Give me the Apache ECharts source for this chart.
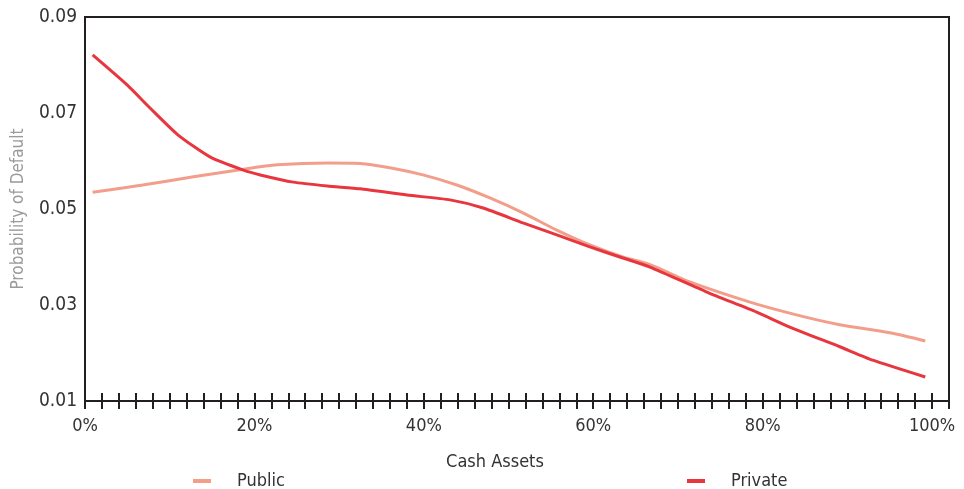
<!DOCTYPE html>
<html>
<head>
<meta charset="utf-8">
<script src="https://cdn.jsdelivr.net/npm/echarts@6/dist/echarts.min.js"></script>
<style>
html,body{margin:0;padding:0;background:#fff;}
#chart{width:964px;height:489px;}
</style>
</head>
<body>
<div id="chart"></div>
<script>
// Cash assets (%) and probability of default
var publicX = [0.9, 6.8, 12.8, 18.7, 22.7, 28.6, 32.5, 36.0, 39.9, 43.9, 47.8, 51.7, 55.7, 59.6, 63.5, 66.7, 71.4, 78.5, 84.1, 89.1, 95.0, 99.2];
var publicY = [0.0535, 0.0550, 0.0567, 0.0583, 0.0592, 0.0596, 0.0595, 0.0586, 0.0571, 0.0550, 0.0523, 0.0492, 0.0456, 0.0425, 0.0400, 0.0384, 0.0348, 0.0306, 0.0279, 0.0259, 0.0242, 0.0225];
var privateX = [0.9, 5.0, 7.7, 11.0, 14.8, 18.7, 20.7, 24.6, 28.6, 32.5, 38.0, 43.1, 47.0, 51.7, 55.7, 59.6, 63.5, 66.7, 73.4, 79.3, 83.2, 89.1, 93.0, 99.2];
var privateY = [0.0821, 0.0758, 0.0710, 0.0654, 0.0608, 0.0581, 0.0571, 0.0556, 0.0548, 0.0542, 0.0529, 0.0519, 0.0502, 0.0471, 0.0446, 0.0421, 0.0398, 0.0379, 0.0327, 0.0285, 0.0254, 0.0213, 0.0185, 0.0150];
var yTicks = [0.01, 0.03, 0.05, 0.07, 0.09];
var seriesNames = ['Public', 'Private'];
var xAxisTitle = 'Cash Assets';
var yAxisTitle = 'Probability of Default';

function pairs(xs, ys) { return xs.map(function (x, i) { return [x, ys[i]]; }); }

var FONT = "'Liberation Sans Narrow', 'DejaVu Sans Condensed', 'Roboto', sans-serif";
var INK = '#231f20';

var chart = echarts.init(document.getElementById('chart'), null, {renderer: 'canvas'});
chart.setOption({
  animation: false,
  backgroundColor: '#fff',
  textStyle: {fontFamily: FONT},
  grid: {left: 85, right: 15, top: 17, bottom: 88, show: true, borderColor: INK, borderWidth: 2, containLabel: false},
  legend: [
    {data: [seriesNames[0]], left: 188, top: 467, icon: 'rect', itemWidth: 18, itemHeight: 4,
     textStyle: {fontFamily: FONT, fontSize: 18, color: '#333', padding: [0, 0, 0, 21]}},
    {data: [seriesNames[1]], left: 682, top: 467, icon: 'rect', itemWidth: 18, itemHeight: 4,
     textStyle: {fontFamily: FONT, fontSize: 18, color: '#333', padding: [0, 0, 0, 21]}}
  ],
  xAxis: [
    {type: 'value', position: 'bottom', min: 0, max: 102, interval: 2,
     name: xAxisTitle, nameLocation: 'middle', nameGap: 52,
     nameTextStyle: {fontFamily: FONT, fontSize: 18, color: '#333', padding: [0, 44, 0, 0]},
     axisLine: {show: true, lineStyle: {color: INK, width: 2}},
     axisTick: {show: true, inside: false, length: 8, lineStyle: {color: INK, width: 2}},
     axisLabel: {show: true, margin: 16, fontFamily: FONT, fontSize: 18, color: '#333',
       formatter: function (v) { return (Math.round(v) % 20 === 0 && v <= 100) ? Math.round(v) + '%' : ''; }},
     splitLine: {show: false}},
    {type: 'value', position: 'top', offset: -384, min: 0, max: 102, interval: 2,
     axisLine: {show: false},
     axisTick: {show: true, inside: false, length: 8, lineStyle: {color: INK, width: 2}},
     axisLabel: {show: false},
     splitLine: {show: false}}
  ],
  yAxis: {
    type: 'value', min: 0.01, max: 0.09, interval: 0.02,
    name: yAxisTitle, nameLocation: 'middle', nameGap: 58, nameRotate: 90,
    nameTextStyle: {fontFamily: FONT, fontSize: 17, color: '#9a9a9a'},
    axisLine: {show: true, lineStyle: {color: INK, width: 2}},
    axisTick: {show: false},
    axisLabel: {margin: 8, fontFamily: FONT, fontSize: 19, color: '#333',
      formatter: function (v) { return v.toFixed(2); }},
    splitLine: {show: false}
  },
  series: [
    {name: seriesNames[0], type: 'line', xAxisIndex: 0, data: pairs(publicX, publicY),
     smooth: 0.3, showSymbol: false, symbol: 'none',
     lineStyle: {color: '#F39E8B', width: 3}, itemStyle: {color: '#F39E8B'}},
    {name: seriesNames[1], type: 'line', xAxisIndex: 0, data: pairs(privateX, privateY),
     smooth: 0.2, showSymbol: false, symbol: 'none',
     lineStyle: {color: '#E8363E', width: 3}, itemStyle: {color: '#E8363E'}}
  ]
});
</script>
</body>
</html>
